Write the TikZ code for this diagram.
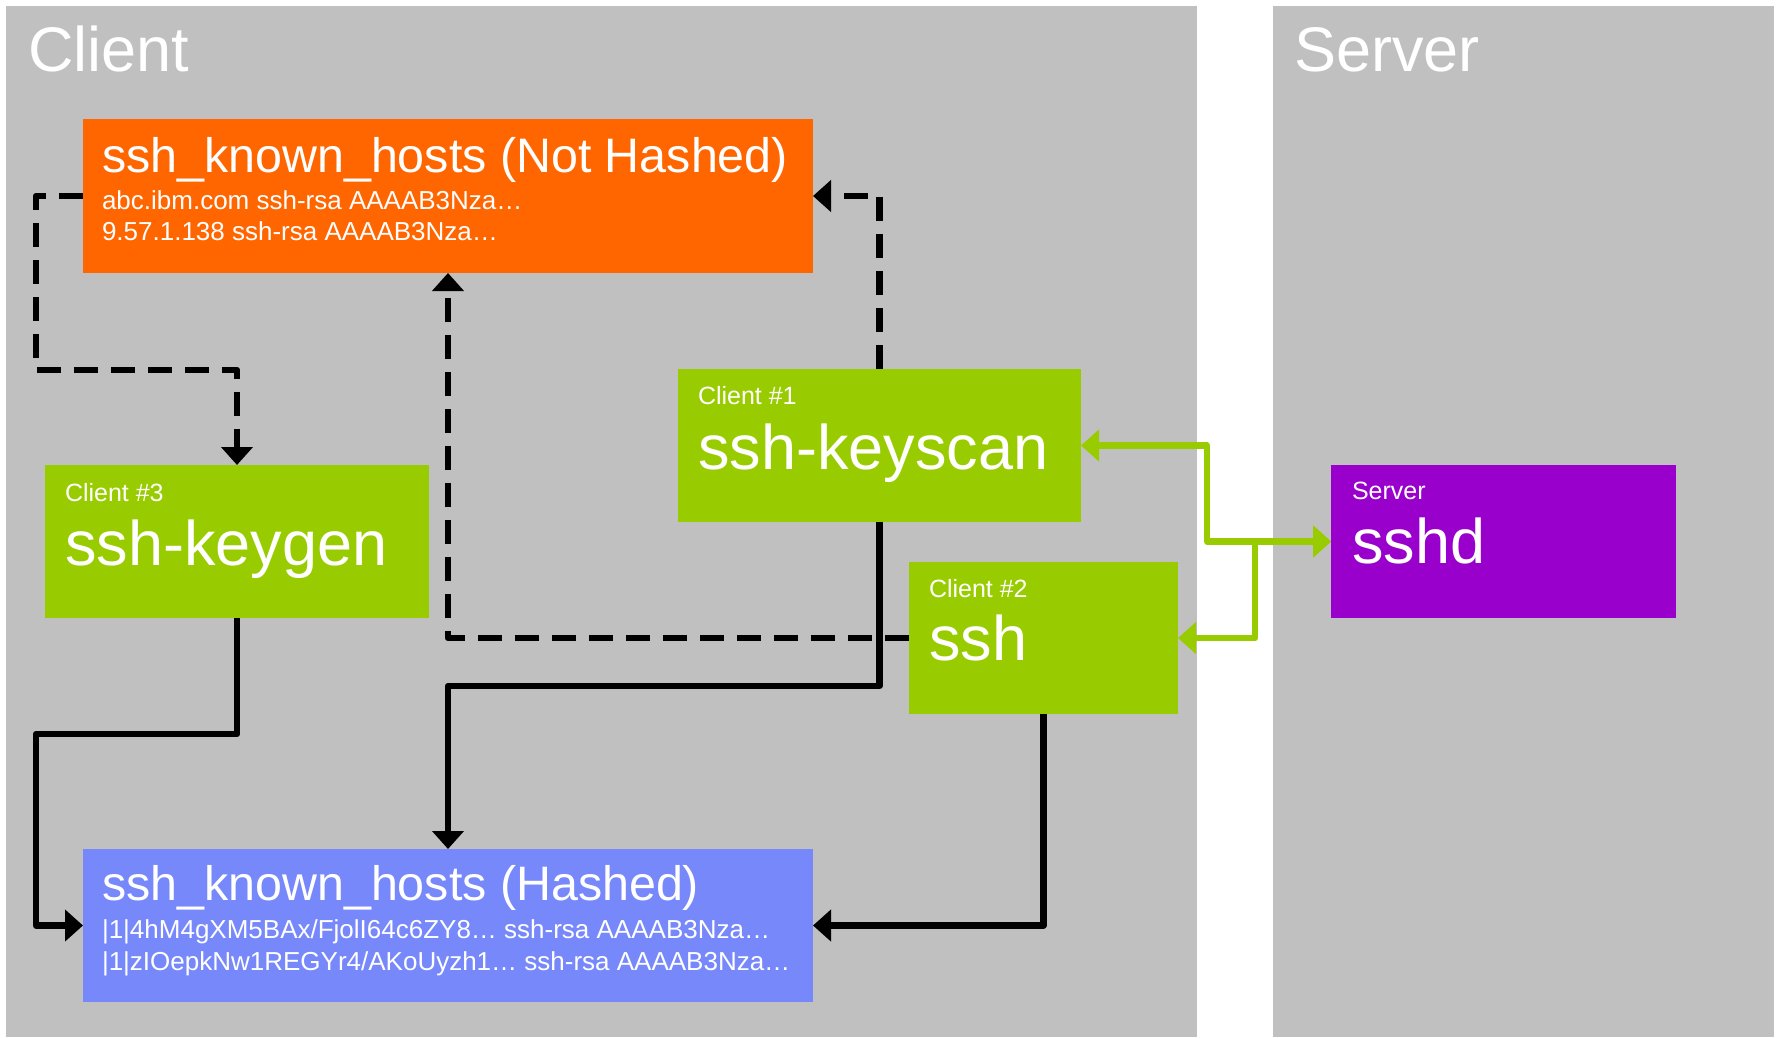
\documentclass[tikz,border=0pt]{standalone}
\usepackage{fontspec}
\setmainfont{Liberation Sans}
\usetikzlibrary{arrows.meta}
\definecolor{panelgray}{RGB}{192,192,192}
\definecolor{korange}{RGB}{255,102,0}
\definecolor{kgreen}{RGB}{153,204,0}
\definecolor{kpurple}{RGB}{153,0,204}
\definecolor{kblue}{RGB}{119,136,250}
\begin{document}
\begin{tikzpicture}[x=1pt,y=-1pt,
  box/.style={rectangle, draw=none, inner sep=0pt, outer sep=0pt},
  txt/.style={anchor=base west, inner sep=0pt, outer sep=0pt, text=white},
  big/.style={txt, font=\fontsize{63}{63}\selectfont},
  ttl/.style={txt, font=\fontsize{48.4}{48.4}\selectfont},
  small/.style={txt, font=\fontsize{25}{25}\selectfont},
  entry/.style={txt, font=\fontsize{26}{26}\selectfont},
  conn/.style={line width=6.5pt, black, line join=round, -{Triangle[width=31pt,length=18pt]}},
  dconn/.style={conn, dash pattern=on 24pt off 13pt},
  gconn/.style={line width=6.5pt, kgreen, line join=round, {Triangle[width=31pt,length=18pt]}-{Triangle[width=31pt,length=18pt]}},
]
\useasboundingbox (0,0) rectangle (1777,1038);
\fill[white] (0,0) rectangle (1777,1038);
% panels
\fill[panelgray] (6,6) rectangle (1197,1037);
\fill[panelgray] (1273,6) rectangle (1774,1037);
\node[big] (clientlbl) at (28,72) {Client};
\node[big] (serverlbl) at (1294,72) {Server};

% boxes
\node[box, fill=korange, minimum width=730pt, minimum height=154pt] (known) at (448,196) {};
\node[box, fill=kgreen, minimum width=384pt, minimum height=153pt] (keygen) at (237,541.5) {};
\node[box, fill=kgreen, minimum width=403pt, minimum height=153pt] (keyscan) at (879.5,445.5) {};
\node[box, fill=kgreen, minimum width=269pt, minimum height=152pt] (ssh) at (1043.5,638) {};
\node[box, fill=kpurple, minimum width=345pt, minimum height=153pt] (sshd) at (1503.5,541.5) {};
\node[box, fill=kblue, minimum width=730pt, minimum height=153pt] (hashed) at (448,925.5) {};

% texts
\node[ttl] (knownt) at (102,172) {ssh\_known\_hosts (Not Hashed)};
\node[entry] (knownl1) at (102,209) {abc.ibm.com ssh-rsa AAAAB3Nza…};
\node[entry] (knownl2) at (102,240) {9.57.1.138 ssh-rsa AAAAB3Nza…};

\node[small] (keygens) at (65,501) {Client \#3};
\node[big] (keygent) at (65,565) {ssh-keygen};

\node[small] (keyscans) at (698,404) {Client \#1};
\node[big] (keyscant) at (698,469) {ssh-keyscan};

\node[small] (sshs) at (929,597) {Client \#2};
\node[big] (ssht) at (929,660) {ssh};

\node[small] (sshds) at (1352,499) {Server};
\node[big] (sshdt) at (1352,563) {sshd};

\node[ttl] (hashedt) at (102,900) {ssh\_known\_hosts (Hashed)};
\node[entry] (hashedl1) at (102,938) {|1|4hM4gXM5BAx/FjolI64c6ZY8… ssh-rsa AAAAB3Nza…};
\node[entry] (hashedl2) at (102,970) {|1|zIOepkNw1REGYr4/AKoUyzh1… ssh-rsa AAAAB3Nza…};

% helper coordinates
\coordinate (L1) at (36,370);
\coordinate (L2) at (36,734);
\coordinate (M1) at (0,686);
\coordinate (G1) at (1207,0);
\coordinate (G2) at (1255,0);

% dashed connectors
\draw[dconn] (known.west) -| (L1) -| (keygen.north);
\draw[dconn] (keyscan.north) |- (known.east);
\draw[dconn] (ssh.west) -| (known.south);

% solid connectors
\draw[conn] (keyscan.south) |- (hashed.north |- M1) -- (hashed.north);
\draw[conn] (keygen.south) |- (L2) |- (hashed.west);
\draw[conn] (ssh.south) |- (hashed.east);

% green connectors
\draw[gconn] (keyscan.east) -| (G1 |- sshd.west) -- (sshd.west);
\draw[gconn] (ssh.east) -| (G2 |- sshd.west) -- (sshd.west);
\end{tikzpicture}
\end{document}
